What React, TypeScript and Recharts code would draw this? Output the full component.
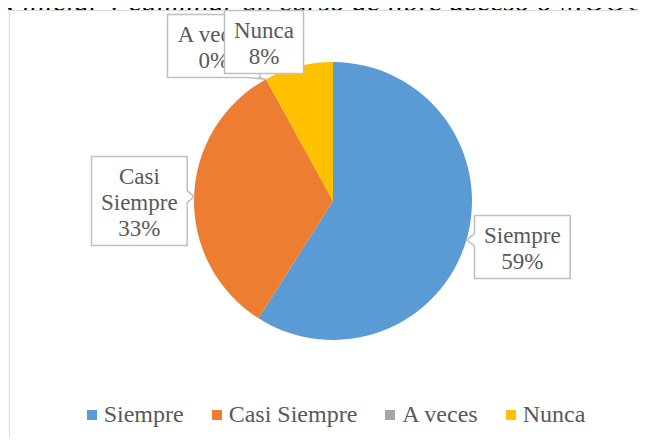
import { PieChart, Pie, Cell, Legend } from 'recharts';

const categories = ['Siempre', 'Casi Siempre', 'A veces', 'Nunca'];
const shares = [59, 33, 0, 8];
// how each category name is wrapped inside its data label
const labelWords = [['Siempre'], ['Casi', 'Siempre'], ['A veces'], ['Nunca']];
const colors = ['#5B9BD5', '#ED7D31', '#A5A5A5', '#FFC000'];
const caption = 'a iniciar y culminar un curso de libre acceso o MOOC';

// the two small labels at the top were dragged by hand in the original
const labelNudge = [
  [2, -9],
  [1, 6],
  [-26, 15],
  [-21, 29],
];

const FONT = '"Liberation Serif", "Times New Roman", serif';
const TEXT = '#595959';
const RAD = Math.PI / 180;

const data = categories.map((name, i) => ({ name, value: shares[i] }));

let ctx: CanvasRenderingContext2D | null = null;
function textWidth(s: string, size: number) {
  if (!ctx) ctx = document.createElement('canvas').getContext('2d');
  if (!ctx) return s.length * size * 0.45;
  ctx.font = `${size}px ${FONT}`;
  return ctx.measureText(s).width;
}

function clamp(v: number, lo: number, hi: number) {
  return Math.max(lo, Math.min(hi, v));
}

// box outline with a little wedge pointing at (tx, ty)
function calloutPath(x: number, y: number, w: number, h: number, tx: number, ty: number) {
  const r = x + w;
  const b = y + h;
  const hw = 6;
  if (tx >= x && tx <= r && ty >= y && ty <= b) {
    return `M${x},${y}H${r}V${b}H${x}Z`;
  }
  if (ty > b) {
    const m = clamp(tx, x + hw + 2, r - hw - 2);
    return `M${x},${y}H${r}V${b}H${m + hw}L${tx},${ty}L${m - hw},${b}H${x}Z`;
  }
  if (ty < y) {
    const m = clamp(tx, x + hw + 2, r - hw - 2);
    return `M${x},${y}H${m - hw}L${tx},${ty}L${m + hw},${y}H${r}V${b}H${x}Z`;
  }
  const m = clamp(ty, y + hw + 2, b - hw - 2);
  if (tx < x) {
    return `M${x},${y}H${r}V${b}H${x}V${m + hw}L${tx},${ty}L${x},${m - hw}Z`;
  }
  return `M${x},${y}H${r}V${m - hw}L${tx},${ty}L${r},${m + hw}V${b}H${x}Z`;
}

function renderLabel(props: any) {
  const { cx, cy, midAngle, outerRadius, index, percent } = props;
  const dx = Math.cos(-midAngle * RAD);
  const dy = Math.sin(-midAngle * RAD);
  const tx = cx + outerRadius * dx;
  const ty = cy + outerRadius * dy;
  const lines = [...labelWords[index], `${Math.round(percent * 100)}%`];
  const size = 23;
  const w = Math.max(...lines.map(l => textWidth(l, size))) + 19;
  const h = lines.length * 26 + 11;
  const bx = cx + (outerRadius + 56) * dx + labelNudge[index][0];
  const by = cy + (outerRadius + 56) * dy + labelNudge[index][1];
  const x = Math.round(bx - w / 2) + 0.5;
  const y = Math.round(by - h / 2) + 0.5;
  return (
    <g key={`lbl-${index}`}>
      <path d={calloutPath(x, y, w, h, tx, ty)} fill='#fff' stroke='#bfbfbf' strokeWidth={1.5} />
      {lines.map((l, i) => (
        <text
          key={i}
          x={x + w / 2}
          y={y + 27 + i * 26}
          textAnchor='middle'
          fill={TEXT}
          fontFamily={FONT}
          fontSize={size}
        >
          {l}
        </text>
      ))}
    </g>
  );
}

function LegendRow() {
  return (
    <div style={{ display: 'flex', justifyContent: 'center', alignItems: 'center' }}>
      {categories.map((c, i) => (
        <div key={c} style={{ display: 'flex', alignItems: 'center', marginRight: i < categories.length - 1 ? 28 : 0 }}>
          <span style={{ width: 10, height: 10, background: colors[i], marginRight: 7, display: 'inline-block' }} />
          <span style={{ fontFamily: FONT, fontSize: 24, color: TEXT, lineHeight: '27px' }}>{c}</span>
        </div>
      ))}
    </div>
  );
}

export default function App() {
  return (
    <div style={{ position: 'relative', width: 646, height: 445, margin: -8, overflow: 'hidden', background: '#fff' }}>
      {/* caption of the figure, only its lower half is inside the crop */}
      <div
        style={{
          position: 'absolute',
          left: 0,
          top: -14,
          whiteSpace: 'nowrap',
          fontFamily: FONT,
          fontStyle: 'italic',
          fontSize: 29.5,
          lineHeight: '30px',
          color: '#000',
        }}
      >
        {caption}
      </div>
      <svg width={646} height={445} style={{ position: 'absolute', left: 0, top: 0 }}>
        <rect x={9} y={10} width={637} height={435} fill='#fff' />
        <line x1={9.5} y1={10.5} x2={646} y2={10.5} stroke='#d9d9d9' strokeWidth={1} />
        <line x1={9.5} y1={10.5} x2={9.5} y2={445} stroke='#d9d9d9' strokeWidth={1} />
      </svg>
      <div style={{ position: 'absolute', left: 0, top: 0 }}>
        <PieChart width={646} height={445} margin={{ top: 0, right: 0, bottom: 0, left: 0 }}>
          <Pie
            data={data}
            dataKey='value'
            nameKey='name'
            cx={333}
            cy={201}
            outerRadius={139}
            startAngle={90}
            endAngle={-270}
            stroke='none'
            label={renderLabel}
            labelLine={false}
            isAnimationActive={false}
          >
            {data.map((d, i) => (
              <Cell key={d.name} fill={colors[i]} />
            ))}
          </Pie>
          <Legend
            content={() => <LegendRow />}
            wrapperStyle={{ left: 13, top: 401, width: 646, bottom: 'auto' }}
          />
        </PieChart>
      </div>
    </div>
  );
}
